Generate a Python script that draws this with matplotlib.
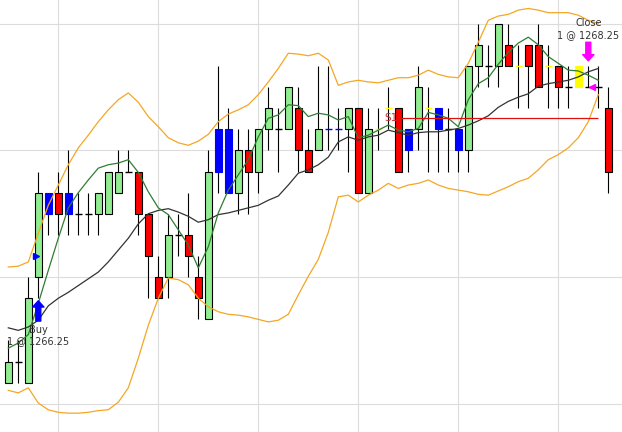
import matplotlib
matplotlib.use("Agg")
import matplotlib.pyplot as plt
import numpy as np

# candle data: colour code, open, high, low, close
# g = up (green), r = down (red), b = blue, y = yellow, k = black doji
colors = list("gkggbrbkkgggkrrrgkrr" "gbbgrggkgrrgbbgrgyyr" "bgybkbggkgryrryrkykk" "r")
opens = [1264.75, 1265.0, 1264.75, 1266.0, 1266.75, 1267.0, 1266.75, 1266.75, 1266.75, 1266.75,
         1266.75, 1267.0, 1267.25, 1267.25, 1266.75, 1266.0, 1266.0, 1266.5, 1266.5, 1266.0,
         1265.5, 1267.25, 1267.0, 1267.0, 1267.5, 1267.25, 1267.75, 1267.75, 1267.75, 1268.0,
         1267.5, 1267.5, 1267.75, 1267.75, 1267.75, 1268.0, 1267.0, 1267.75, 1268.0, 1268.0,
         1267.75, 1267.75, 1268.0, 1268.0, 1267.75, 1267.75, 1267.5, 1268.5, 1268.5, 1268.5,
         1268.75, 1268.5, 1268.75, 1268.75, 1268.5, 1268.5, 1268.25, 1268.5, 1268.25, 1268.25,
         1268.0]
highs = [1265.25, 1265.25, 1266.0, 1267.25, 1267.0, 1267.25, 1267.5, 1267.0, 1267.0, 1267.0,
         1267.25, 1267.5, 1267.5, 1267.25, 1266.75, 1266.25, 1266.75, 1266.75, 1267.0, 1266.25,
         1267.5, 1268.5, 1268.0, 1267.75, 1267.75, 1267.75, 1268.25, 1268.0, 1268.25, 1268.25,
         1267.75, 1268.5, 1268.5, 1268.0, 1268.0, 1268.0, 1268.0, 1268.0, 1268.25, 1268.0,
         1267.75, 1268.5, 1268.25, 1268.0, 1268.0, 1267.75, 1268.5, 1269.0, 1268.75, 1269.0,
         1269.0, 1268.75, 1268.75, 1269.0, 1268.75, 1268.5, 1268.5, 1268.5, 1268.5, 1268.5,
         1268.25]
lows = [1264.75, 1264.75, 1264.75, 1265.75, 1266.5, 1266.5, 1266.5, 1266.5, 1266.5, 1266.5,
        1266.75, 1267.0, 1267.25, 1266.5, 1265.75, 1265.75, 1265.75, 1266.25, 1266.0, 1265.5,
        1265.5, 1267.0, 1267.0, 1266.75, 1266.75, 1267.0, 1267.5, 1267.25, 1267.75, 1267.25,
        1267.25, 1267.5, 1267.5, 1267.5, 1267.25, 1267.0, 1267.0, 1267.5, 1267.75, 1267.25,
        1267.25, 1267.5, 1267.25, 1267.25, 1267.25, 1267.25, 1267.25, 1268.25, 1268.25, 1268.25,
        1268.5, 1268.0, 1268.0, 1268.25, 1268.0, 1268.0, 1268.0, 1268.25, 1268.25, 1268.0,
        1267.0]
closes = [1265.0, 1265.0, 1265.75, 1267.0, 1267.0, 1266.75, 1267.0, 1266.75, 1266.75, 1267.0,
          1267.25, 1267.25, 1267.25, 1266.75, 1266.25, 1265.75, 1266.5, 1266.5, 1266.25, 1265.75,
          1267.25, 1267.75, 1267.75, 1267.5, 1267.25, 1267.75, 1268.0, 1267.75, 1268.25, 1267.5,
          1267.25, 1267.75, 1267.75, 1267.75, 1268.0, 1267.0, 1267.75, 1267.75, 1268.0, 1267.25,
          1267.5, 1268.25, 1268.0, 1267.75, 1267.75, 1267.5, 1268.5, 1268.75, 1268.5, 1269.0,
          1268.5, 1268.5, 1268.5, 1268.25, 1268.5, 1268.25, 1268.25, 1268.25, 1268.25, 1268.25,
          1267.25]

# indicator lines (bars 0..59)
fast_ma = [1265.16, 1265.22, 1265.32, 1265.69, 1266.08, 1266.46, 1266.82, 1267.00, 1267.15, 1267.29,
           1267.33, 1267.35, 1267.39, 1267.24, 1267.01, 1266.82, 1266.74, 1266.56, 1266.38, 1266.11,
           1266.36, 1266.76, 1267.03, 1267.21, 1267.39, 1267.66, 1267.88, 1267.92, 1268.04, 1268.03,
           1267.90, 1267.94, 1267.92, 1267.86, 1267.90, 1267.65, 1267.68, 1267.74, 1267.80, 1267.74,
           1267.72, 1267.76, 1267.95, 1267.92, 1267.88, 1267.78, 1268.10, 1268.29, 1268.36, 1268.52,
           1268.66, 1268.77, 1268.84, 1268.75, 1268.61, 1268.53, 1268.45, 1268.44, 1268.39, 1268.33]
slow_ma = [1265.40, 1265.37, 1265.41, 1265.49, 1265.66, 1265.75, 1265.82, 1265.90, 1265.98, 1266.06,
           1266.18, 1266.32, 1266.46, 1266.63, 1266.75, 1266.79, 1266.81, 1266.77, 1266.72, 1266.65,
           1266.68, 1266.74, 1266.76, 1266.79, 1266.82, 1266.85, 1266.91, 1266.96, 1267.09, 1267.23,
           1267.27, 1267.33, 1267.42, 1267.60, 1267.66, 1267.62, 1267.66, 1267.68, 1267.74, 1267.71,
           1267.68, 1267.71, 1267.72, 1267.72, 1267.74, 1267.76, 1267.80, 1267.85, 1267.91, 1268.01,
           1268.08, 1268.13, 1268.17, 1268.26, 1268.29, 1268.31, 1268.33, 1268.37, 1268.43, 1268.47]
upper_band = [1266.12, 1266.13, 1266.18, 1266.52, 1266.85, 1267.09, 1267.33, 1267.53, 1267.68, 1267.84,
              1267.98, 1268.10, 1268.18, 1268.07, 1267.90, 1267.78, 1267.65, 1267.59, 1267.56, 1267.61,
              1267.69, 1267.84, 1267.93, 1267.98, 1268.04, 1268.16, 1268.31, 1268.47, 1268.65, 1268.64,
              1268.62, 1268.65, 1268.57, 1268.27, 1268.31, 1268.33, 1268.31, 1268.30, 1268.33, 1268.36,
              1268.36, 1268.39, 1268.45, 1268.40, 1268.37, 1268.36, 1268.53, 1268.78, 1269.04, 1269.09,
              1269.11, 1269.16, 1269.18, 1269.16, 1269.13, 1269.13, 1269.13, 1269.10, 1269.04, 1269.00]
lower_band = [1264.66, 1264.63, 1264.69, 1264.51, 1264.43, 1264.40, 1264.39, 1264.39, 1264.40, 1264.42,
              1264.43, 1264.52, 1264.69, 1265.04, 1265.43, 1265.75, 1265.99, 1265.97, 1265.91, 1265.75,
              1265.65, 1265.59, 1265.56, 1265.55, 1265.53, 1265.50, 1265.47, 1265.49, 1265.56, 1265.79,
              1266.01, 1266.21, 1266.53, 1266.95, 1266.97, 1266.89, 1266.97, 1267.03, 1267.11, 1267.05,
              1267.09, 1267.11, 1267.15, 1267.09, 1267.05, 1267.03, 1267.01, 1266.98, 1266.97, 1267.02,
              1267.07, 1267.13, 1267.17, 1267.27, 1267.39, 1267.45, 1267.53, 1267.65, 1267.84, 1268.16]

# S1 pivot line
s1_level = 1267.88
s1_start, s1_end = 39, 59

# trades
buy_bar, buy_price = 3, 1266.25
close_bar, close_price = 58, 1268.25

grid_bars = [5, 15, 25, 35, 45, 55]
grid_prices = [1264.5, 1266.0, 1267.5, 1269.0]

face = {"g": "#90ee90", "r": "#ff0000", "b": "#0000ff", "y": "#ffff00", "k": "black"}
edge = {"g": "black", "r": "black", "b": "#0000ff", "y": "#ffff00", "k": "black"}

fig = plt.figure(figsize=(6.22, 4.32), dpi=100)
ax = fig.add_axes([0, 0, 1, 1])
ax.set_xlim(-0.83, 61.37)
ax.set_ylim(1264.167, 1269.28)

ax.set_xticks(grid_bars)
ax.set_yticks(grid_prices)
ax.grid(True, color="#dcdcdc", linewidth=0.8)
ax.tick_params(length=0, labelleft=False, labelbottom=False)
for s in ax.spines.values():
    s.set_visible(False)
ax.set_axisbelow(True)

x = np.arange(len(opens))
o = np.array(opens)
c = np.array(closes)

# wicks
ax.vlines(x, lows, highs, color="black", linewidth=0.8, zorder=2)

# bodies
body = o != c
ax.bar(x[body], np.abs(c - o)[body], bottom=np.minimum(o, c)[body], width=0.7,
       color=[face[k] for k, b in zip(colors, body) if b],
       edgecolor=[edge[k] for k, b in zip(colors, body) if b],
       linewidth=0.8, zorder=3)

# dojis
doji = ~body
ax.hlines(o[doji], x[doji] - 0.35, x[doji] + 0.35,
          colors=[face[k] for k, b in zip(colors, doji) if b],
          linewidth=1.0, zorder=3)

# indicators
xi = np.arange(len(fast_ma))
ax.plot(xi, upper_band, color="#f5a623", linewidth=0.9, zorder=4)
ax.plot(xi, lower_band, color="#f5a623", linewidth=0.9, zorder=4)
ax.plot(xi, slow_ma, color="#333333", linewidth=0.9, zorder=4)
ax.plot(xi, fast_ma, color="#2e7d32", linewidth=0.9, zorder=4)

# S1 line
ax.hlines(s1_level, s1_start, s1_end, color="#e01010", linewidth=0.9, zorder=4)
ax.text(s1_start - 0.1, s1_level, "S1", color="#d03030", fontsize=7.5,
        ha="right", va="center", zorder=5)

arrow = "simple,head_width=0.9,head_length=0.5,tail_width=0.4"

# buy marker
ax.annotate("", xy=(buy_bar, 1265.72), xytext=(buy_bar, 1265.48),
            arrowprops=dict(arrowstyle=arrow, color="#0000ff", mutation_scale=9,
                            shrinkA=0, shrinkB=0), zorder=6)
ax.plot(buy_bar - 0.2, buy_price, marker=">", color="#0000ff", markersize=4, zorder=6)
ax.text(buy_bar, 1265.38, "Buy", fontsize=7, color="#333333", ha="center", va="center", zorder=6)
ax.text(buy_bar, 1265.24, "1 @ %.2f" % buy_price, fontsize=7, color="#333333",
        ha="center", va="center", zorder=6)

# close marker
ax.annotate("", xy=(close_bar, 1268.56), xytext=(close_bar, 1268.78),
            arrowprops=dict(arrowstyle=arrow, color="#ff00ff", mutation_scale=9,
                            shrinkA=0, shrinkB=0), zorder=6)
ax.plot(close_bar + 0.35, close_price, marker="<", color="#ff00ff", markersize=4, zorder=6)
ax.text(close_bar, 1269.01, "Close", fontsize=7, color="#333333", ha="center", va="center", zorder=6)
ax.text(close_bar, 1268.87, "1 @ %.2f" % close_price, fontsize=7, color="#333333",
        ha="center", va="center", zorder=6)

fig.savefig("out.png", dpi=100)
